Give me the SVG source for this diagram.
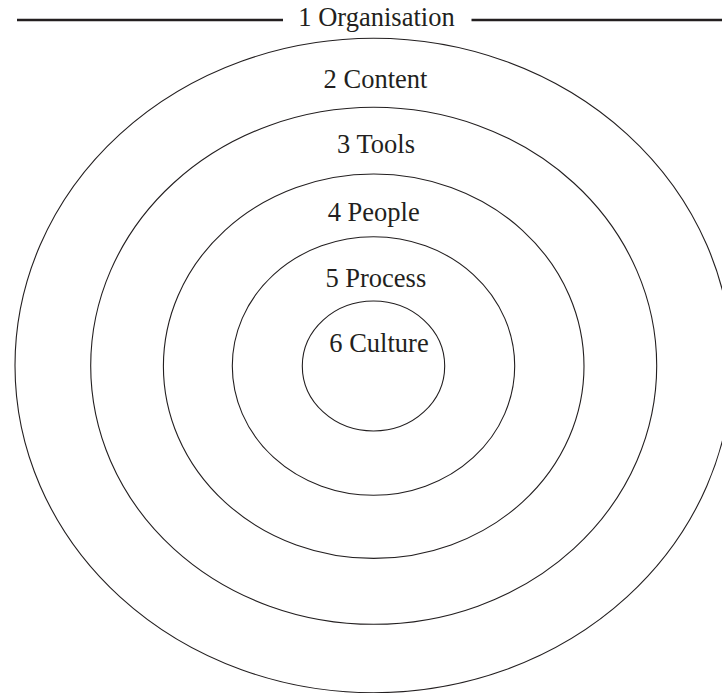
<svg xmlns="http://www.w3.org/2000/svg" width="722" height="693" viewBox="0 0 722 693">
<style>
.ring{fill:none;stroke:#231f20;stroke-width:1.1}
.lbl{font-family:'Liberation Serif','Tinos','Nimbus Roman','DejaVu Serif',serif;font-size:26.5px;fill:#231f20;text-anchor:middle}
.rule{stroke:#231f20;stroke-width:2.4}
</style>
<rect width="722" height="693" fill="#ffffff"/>
<g id="connectors">
<line class="rule" x1="17" y1="20" x2="283" y2="20"/>
<line class="rule" x1="471.5" y1="20" x2="722" y2="20"/>
</g>
<g id="n1"><ellipse class="ring" cx="373.5" cy="365.5" rx="358.5" ry="327.2"/><text class="lbl" x="376.5" y="26">1 Organisation</text></g>
<g id="n2"><ellipse class="ring" cx="373.7" cy="365.8" rx="283" ry="258.5"/><text class="lbl" x="375.5" y="88.3">2 Content</text></g>
<g id="n3"><ellipse class="ring" cx="373.7" cy="366.2" rx="210.3" ry="192.2"/><text class="lbl" x="376" y="153.3">3 Tools</text></g>
<g id="n4"><ellipse class="ring" cx="373.5" cy="366" rx="141.2" ry="129.3"/><text class="lbl" x="373.7" y="220.7">4 People</text></g>
<g id="n5"><ellipse class="ring" cx="373.5" cy="366" rx="71.2" ry="65"/><text class="lbl" x="375.8" y="286.7">5 Process</text></g>
<g id="n6"><text class="lbl" x="379" y="351.7">6 Culture</text></g>
</svg>
